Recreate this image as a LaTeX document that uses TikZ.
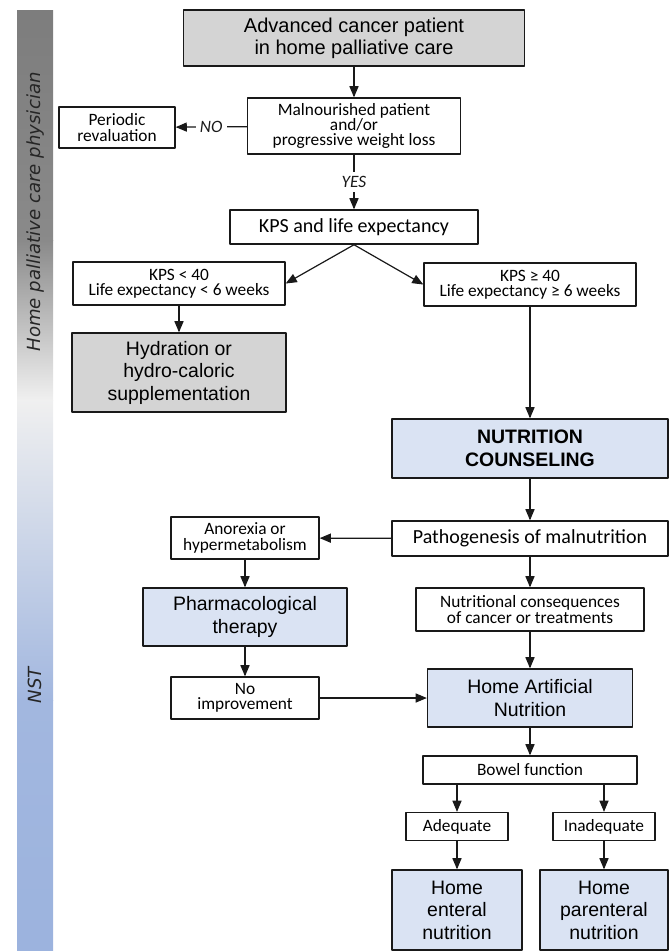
\documentclass[tikz,border=0pt]{standalone}
\usepackage{fontspec}
\setmainfont{Liberation Sans}
\newfontfamily\calfont{Carlito}
\newfontfamily\barfont{DejaVu Sans}
\usetikzlibrary{arrows}
\definecolor{greyfill}{HTML}{D4D4D4}
\definecolor{bluefill}{HTML}{DAE3F3}
\definecolor{bartext}{HTML}{262626}
\tikzset{
  boxsize/.style 2 args={minimum width=#1*0.75pt,minimum height=#2*0.75pt},
  box/.style={draw=black!90,line width=1.1pt,inner sep=0pt,align=center,
    font=\calfont\fontsize{13}{11.5}\selectfont},
  bigcal/.style={box,font=\calfont\fontsize{15}{16}\selectfont},
  greybox/.style={box,fill=greyfill,font=\fontsize{14.6}{16.9}\selectfont},
  bluebox/.style={box,fill=bluefill,font=\fontsize{14.6}{16.9}\selectfont},
  link/.style={->,line width=0.9pt,black!90},
  answer/.style={fill=white,inner sep=3pt,font=\calfont\itshape\fontsize{13}{13}\selectfont},
  barlabel/.style={rotate=90,text=bartext,font=\barfont\itshape\fontsize{13.6}{14}\selectfont}
}
\begin{document}
\begin{tikzpicture}[line cap=round,line join=round,>=triangle 45,x=0.75pt,y=-0.75pt]
\useasboundingbox (0,0) rectangle (670,951);
\shade[top color=black!51,bottom color=black!46] (17,10) rectangle (53,240);
\shade[top color=black!46,bottom color=black!6] (17,240) rectangle (53,400);
\shade[top color=black!6,bottom color={rgb,255:red,162;green,183;blue,223}] (17,400) rectangle (53,700);
\shade[top color={rgb,255:red,162;green,183;blue,223},bottom color={rgb,255:red,156;green,179;blue,222}] (17,700) rectangle (53,951);
\node[barlabel] (phys) at (35,212) {Home palliative care physician};
\node[barlabel] (nst) at (35,685) {NST};

\node[greybox,boxsize={341}{56},font=\fontsize{15}{16.5}\selectfont] (adv) at (354,38) {Advanced cancer patient\\in home palliative care};
\node[box,boxsize={213}{56}] (mal) at (354,126) {Malnourished patient\\and/or\\progressive weight loss};
\node[box,boxsize={116}{41}] (per) at (117,127.5) {Periodic\\revaluation};
\node[bigcal,boxsize={248}{34}] (kps) at (354,227) {KPS and life expectancy};
\node[box,boxsize={212}{43}] (low) at (179,283.5) {KPS < 40\\Life expectancy < 6 weeks};
\node[box,boxsize={212}{43}] (high) at (530,284.5) {KPS ≥ 40\\Life expectancy ≥ 6 weeks};
\node[greybox,boxsize={214}{79}] (hyd) at (179,372.5) {Hydration or\\hydro-caloric\\supplementation};
\node[bluebox,boxsize={276}{59},font=\bfseries\fontsize{14.6}{16.9}\selectfont] (nut) at (530,448.5) {NUTRITION\\COUNSELING};
\node[bigcal,boxsize={276}{35}] (pat) at (530,538.5) {Pathogenesis of malnutrition};
\node[box,boxsize={148}{42}] (ano) at (245,538) {Anorexia or\\hypermetabolism};
\node[bluebox,boxsize={204}{58}] (pha) at (245,617) {Pharmacological\\therapy};
\node[box,boxsize={228}{43}] (con) at (530,609.5) {Nutritional consequences\\of cancer or treatments};
\node[box,boxsize={148}{42}] (noi) at (245,698) {No\\improvement};
\node[bluebox,boxsize={205}{58}] (han) at (530,698) {Home Artificial\\Nutrition};
\node[box,boxsize={214}{28}] (bow) at (530,770) {Bowel function};
\node[box,boxsize={102}{28}] (ade) at (457,826.5) {Adequate};
\node[box,boxsize={102}{28}] (ina) at (604,826.5) {Inadequate};
\node[bluebox,boxsize={130}{80}] (ent) at (457,910) {Home\\enteral\\nutrition};
\node[bluebox,boxsize={128}{80}] (par) at (604,910) {Home\\parenteral\\nutrition};

\draw[link] (adv) -- (mal);
\draw[link] (mal) -- node[answer] {NO} (per);
\draw[link] (mal) -- node[answer] {YES} (kps);
\draw[link] (kps.south) -- (low.east);
\draw[link] (kps.south) -- (high.west);
\draw[link] (low) -- (hyd);
\draw[link] (high) -- (nut);
\draw[link] (nut) -- (pat);
\draw[link] (pat) -- (ano);
\draw[link] (pat) -- (con);
\draw[link] (ano) -- (pha);
\draw[link] (pha) -- (noi);
\draw[link] (noi) -- (han);
\draw[link] (con) -- (han);
\draw[link] (han) -- (bow);
\draw[link] (bow.south -| ade.north) -- (ade.north);
\draw[link] (bow.south -| ina.north) -- (ina.north);
\draw[link] (ade) -- (ent);
\draw[link] (ina) -- (par);
\end{tikzpicture}
\end{document}
